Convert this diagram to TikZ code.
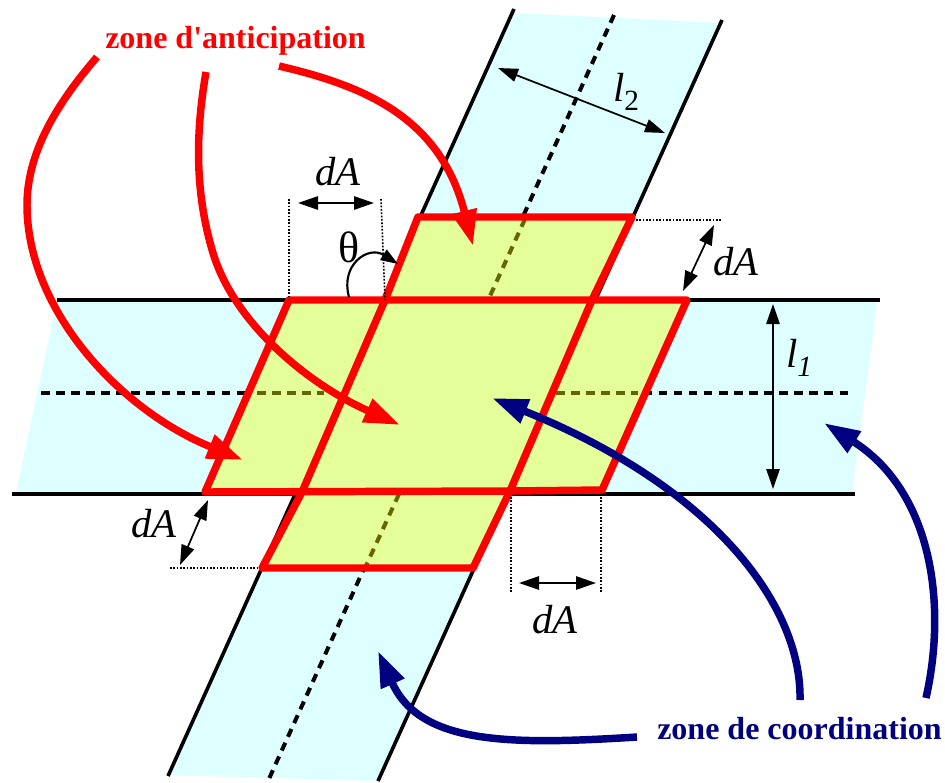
\documentclass[tikz,border=0pt]{standalone}
\usepackage{fontspec}
\setmainfont{Liberation Serif}
\usetikzlibrary{arrows.meta}
\definecolor{voie}{HTML}{DEFFFF}
\definecolor{zone}{HTML}{E4FF99}
\definecolor{olive}{HTML}{666600}
\definecolor{rouge}{HTML}{FF0000}
\definecolor{marine}{HTML}{000080}
\newcommand{\lbl}{\fontsize{30.5}{33}\selectfont\itshape}
\begin{document}
\begin{tikzpicture}[x=0.75pt,y=-0.75pt,
    bord/.style={black,line width=2.7pt},
    axe/.style={black,line width=3pt,dash pattern=on 6.4pt off 4.9pt},
    axez/.style={axe,olive},
    cadre/.style={rouge,line width=5.6pt,line join=round},
    repere/.style={black,line width=1.2pt,dash pattern=on 1.3pt off 1.2pt},
    cote/.style={black,line width=1.3pt,{Triangle[length=15pt,width=10pt]}-{Triangle[length=15pt,width=10pt]}},
    fleche/.style={line width=5.6pt,-{Triangle[length=27pt,width=18pt]}},
    titre/.style={font=\fontsize{24}{26}\selectfont\bfseries,inner sep=0pt}]
  \useasboundingbox (0,0) rectangle (945,782);
  % voies
  \fill[voie] (57,301) -- (877,301) -- (852,493) -- (16,493) -- cycle;
  \fill[voie] (514,13) -- (722,23) -- (378,781) -- (170,775) -- cycle;
  \draw[bord] (57,300) -- (880,300);
  \draw[bord] (12,494) -- (855,494);
  \draw[bord] (514,9) -- (168,776);
  \draw[bord] (722,20) -- (378,781);
  \draw[axe] (41,393) -- (851,393);
  \draw[axe] (614,15) -- (268,781);
  % zone d'anticipation
  \coordinate (ht1) at (418,217);
  \coordinate (ht2) at (632,217);
  \coordinate (mg1) at (289,300);
  \coordinate (md1) at (687,300);
  \coordinate (mg2) at (205,492);
  \coordinate (md2) at (602,490);
  \coordinate (ba1) at (302,492);
  \coordinate (ba2) at (510,491);
  \coordinate (bs1) at (262,568);
  \coordinate (bs2) at (473,568);
  \coordinate (cr1) at (385,300);
  \coordinate (cr2) at (592,300);
  \fill[zone] (ht1) -- (ht2) -- (cr2) -- (md1) -- (md2) -- (ba2) -- (bs2) -- (bs1)
    -- (ba1) -- (mg2) -- (mg1) -- (cr1) -- cycle;
  \draw[axez] (257,393) -- (324,393);
  \draw[axez] (556,393) -- (638,393);
  \draw[axez] (525,219) -- (490,296);
  \draw[axez] (399,494) -- (365,568);
  \draw[cadre] (mg1) -- (md1) -- (md2) -- (ba2) -- (mg2) -- cycle;
  \draw[cadre] (cr1) -- (ht1) -- (ht2) -- (cr2);
  \draw[cadre] (cr1) -- (ba1) -- (bs1) -- (bs2) -- (ba2) -- (cr2);
  % cotes
  \coordinate (a1) at (289,199);
  \coordinate (a2) at (381,199);
  \coordinate (a3) at (298,203);
  \coordinate (a4) at (374,203);
  \draw[repere] (a1) -- (mg1);
  \draw[repere] (a2) -- (cr1);
  \draw[cote] (a3) -- (a4);
  \node (dA1) at (338,172) {\lbl dA};
  \coordinate (b1) at (636,220);
  \coordinate (b2) at (722,220);
  \coordinate (b3) at (714,225);
  \coordinate (b4) at (683,291);
  \draw[repere] (b1) -- (b2);
  \draw[cote] (b3) -- (b4);
  \node (dA2) at (736,262) {\lbl dA};
  \coordinate (c1) at (170,568);
  \coordinate (c2) at (258,568);
  \coordinate (c3) at (208,500);
  \coordinate (c4) at (180,565);
  \draw[repere] (c1) -- (c2);
  \draw[cote] (c3) -- (c4);
  \node (dA3) at (154,524) {\lbl dA};
  \coordinate (d1) at (511,497);
  \coordinate (d2) at (511,593);
  \coordinate (d3) at (601,497);
  \coordinate (d4) at (601,593);
  \coordinate (d5) at (519,583);
  \coordinate (d6) at (596,583);
  \draw[repere] (d1) -- (d2);
  \draw[repere] (d3) -- (d4);
  \draw[cote] (d5) -- (d6);
  \node (dA4) at (555,620) {\lbl dA};
  \coordinate (e1) at (773,304);
  \coordinate (e2) at (773,489);
  \draw[cote] (e1) -- (e2);
  \node (l1) at (799,358) {\lbl l\raisebox{-7pt}{\fontsize{22}{24}\selectfont 1}};
  \coordinate (f1) at (498,68);
  \coordinate (f2) at (665,133);
  \draw[cote] (f1) -- (f2);
  \node (l2) at (626,92) {\lbl l\raisebox{-7pt}{\fontsize{22}{24}\selectfont\upshape 2}};
  % angle
  \coordinate (t1) at (349,297);
  \coordinate (t2) at (398,264);
  \draw[black,line width=1.6pt,-{Triangle[length=13pt,width=9pt]}] (t1)
    .. controls (340,265) and (368,245) .. (t2);
  \node (theta) at (349,247) {\fontsize{33}{35}\selectfont θ};
  % fleches rouges
  \node[titre,text=rouge,anchor=west] (ant) at (105,41) {zone d\textquotesingle anticipation};
  \coordinate (r1) at (97,57);
  \coordinate (r2) at (243,460);
  \coordinate (r3) at (206,72);
  \coordinate (r4) at (400,425);
  \coordinate (r5) at (279,66);
  \coordinate (r6) at (473,246);
  \draw[fleche,rouge] (r1) .. controls (60,100) and (27,150) .. (27,205)
    .. controls (27,310) and (120,410) .. (r2);
  \draw[fleche,rouge] (r3) .. controls (196,130) and (194,190) .. (213,253)
    .. controls (235,325) and (310,385) .. (r4);
  \draw[fleche,rouge] (r5) .. controls (360,85) and (440,115) .. (r6);
  % fleches bleues
  \node[titre,text=marine,anchor=west] (coo) at (657,729) {zone de coordination};
  \coordinate (n1) at (800,700);
  \coordinate (n2) at (492,398);
  \coordinate (n3) at (926,698);
  \coordinate (n4) at (824,423);
  \coordinate (n5) at (637,737);
  \coordinate (n6) at (378,651);
  \draw[fleche,marine] (n1) .. controls (802,610) and (720,490) .. (n2);
  \draw[fleche,marine] (n3) .. controls (948,600) and (930,490) .. (n4);
  \draw[fleche,marine] (n5) .. controls (510,745) and (420,745) .. (n6);
\end{tikzpicture}
\end{document}
